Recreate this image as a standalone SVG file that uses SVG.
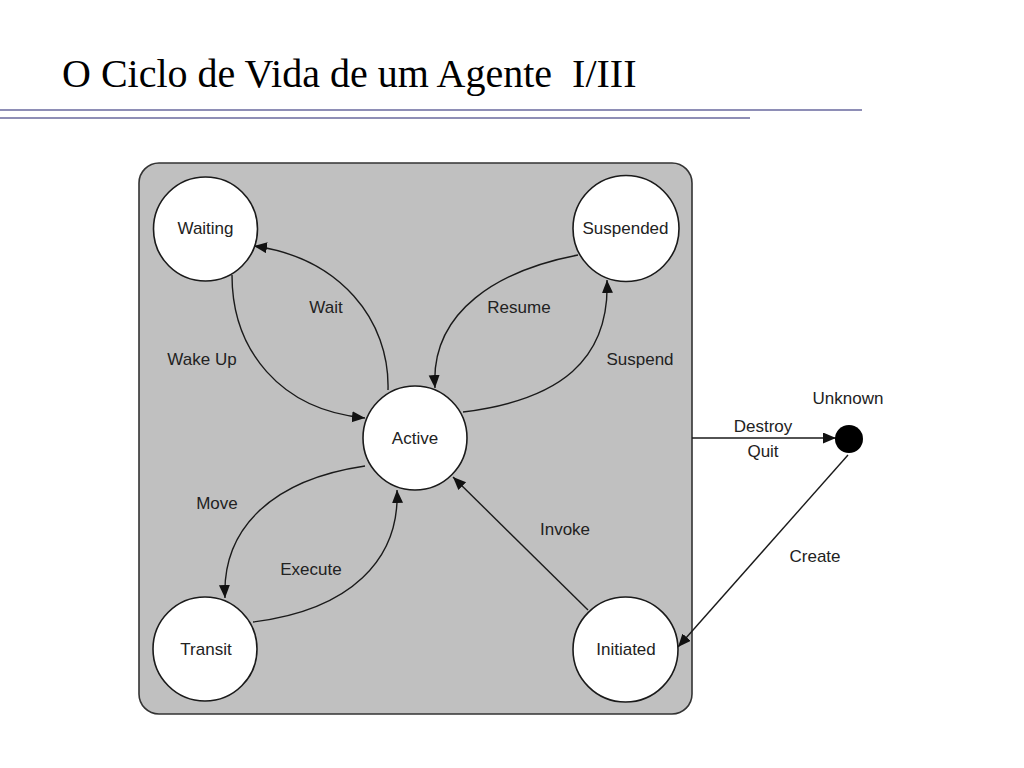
<svg xmlns="http://www.w3.org/2000/svg" width="1024" height="768" viewBox="0 0 1024 768">
<defs>
<marker id="arr" markerUnits="userSpaceOnUse" markerWidth="14" markerHeight="12" refX="13" refY="5.5" orient="auto">
<path d="M0,0 L13,5.5 L0,11 Z" fill="#111"/>
</marker>
<style>
.title{font-family:"Liberation Serif","Times New Roman",serif;font-size:40px;fill:#000}
.lbl{font-family:"Liberation Sans",Arial,sans-serif;font-size:17px;fill:#222;text-anchor:middle}
.node{fill:#fff;stroke:#1a1a1a;stroke-width:1.6}
.edge{fill:none;stroke:#1a1a1a;stroke-width:1.4;marker-end:url(#arr)}
.rule{stroke:#8e8eb6;stroke-width:2}
</style>
</defs>
<rect width="1024" height="768" fill="#fff"/>
<text class="title" x="62" y="87" xml:space="preserve">O Ciclo de Vida de um Agente  I/III</text>
<line class="rule" x1="0" y1="110" x2="862" y2="110"/>
<line class="rule" x1="0" y1="118" x2="750" y2="118"/>

<g id="platform">
<rect x="139" y="163" width="553" height="551" rx="20" ry="20" fill="#c0c0c0" stroke="#333" stroke-width="1.6"/>
</g>

<g id="connectors">
<path class="edge" d="M388,390 C390,320 340,258 254,246"/>
<path class="edge" d="M232,275 C232,350 280,410 365,418"/>
<path class="edge" d="M578,255 C500,270 430,310 435,388"/>
<path class="edge" d="M463,412 C560,400 610,360 607,280"/>
<path class="edge" d="M365,466 C270,480 222,530 225,598"/>
<path class="edge" d="M253,622 C350,610 400,560 397,490"/>
<path class="edge" d="M588,610 L453,477"/>
<path class="edge" d="M848,455 L678,647"/>
<path class="edge" d="M692,438 L836,438"/>
<text class="lbl" x="326" y="313">Wait</text>
<text class="lbl" x="202" y="365">Wake Up</text>
<text class="lbl" x="519" y="313">Resume</text>
<text class="lbl" x="640" y="365">Suspend</text>
<text class="lbl" x="217" y="509">Move</text>
<text class="lbl" x="311" y="575">Execute</text>
<text class="lbl" x="565" y="535">Invoke</text>
<text class="lbl" x="815" y="562">Create</text>
<text class="lbl" x="763" y="432">Destroy</text>
<text class="lbl" x="763" y="457">Quit</text>
</g>

<g id="waiting">
<circle class="node" cx="205.5" cy="229" r="52"/>
<text class="lbl" x="205.5" y="234">Waiting</text>
</g>
<g id="suspended">
<circle class="node" cx="626" cy="228.5" r="53"/>
<text class="lbl" x="625.5" y="234">Suspended</text>
</g>
<g id="active">
<circle class="node" cx="415" cy="438" r="52"/>
<text class="lbl" x="415" y="444">Active</text>
</g>
<g id="transit">
<circle class="node" cx="205" cy="649" r="52"/>
<text class="lbl" x="206" y="655">Transit</text>
</g>
<g id="initiated">
<circle class="node" cx="625.5" cy="649.5" r="52.5"/>
<text class="lbl" x="626" y="655">Initiated</text>
</g>
<g id="unknown">
<circle cx="849" cy="439" r="14" fill="#000"/>
<text class="lbl" x="848" y="404">Unknown</text>
</g>
</svg>
